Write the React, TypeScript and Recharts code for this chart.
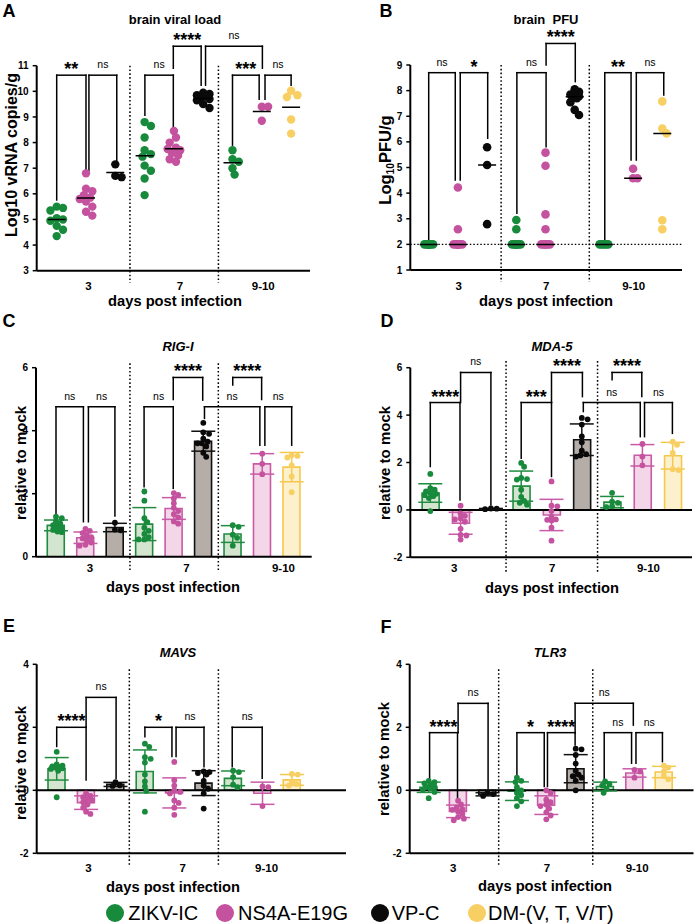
import React from "react";
import {
  ComposedChart,
  Bar,
  Cell,
  Scatter,
  ErrorBar,
  XAxis,
  YAxis,
  ReferenceLine,
} from "recharts";

const FONT = "'Liberation Sans', Arial, Helvetica, sans-serif";

const dayLabels = ["3", "7", "9-10"];
const strainNames = ["ZIKV-IC", "NS4A-E19G", "VP-C", "DM-(V, T, V/T)"];
const dotColors = ["#178a3c", "#c4529f", "#0a0a0a", "#f7cf62"];
const barFills = ["#d3e4cf", "#f3d6e8", "#b4ada8", "#fdf0cd"];
const barStrokes = ["#1f8c40", "#c95aa6", "#111111", "#f5c84c"];
// strain drawn in each of the nine slots (three per day)
const slotStrain = [0, 1, 2, 0, 1, 2, 0, 1, 3];

// one list of animals per slot
const brainViralLoad: number[][] = [
  [5.5, 5.45, 5.35, 5.05, 5.0, 4.95, 4.75, 4.6, 4.35],
  [6.8, 6.2, 6.1, 5.95, 5.85, 5.8, 5.7, 5.5, 5.3, 5.15],
  [7.15, 6.7, 6.65],
  [8.8, 8.65, 8.2, 7.7, 7.55, 7.45, 7.1, 6.9, 6.6, 5.95],
  [8.45, 8.2, 8.0, 7.8, 7.75, 7.7, 7.6, 7.5, 7.35, 7.25],
  [9.95, 9.9, 9.85, 9.8, 9.75, 9.7, 9.65, 9.5, 9.35],
  [7.7, 7.35, 7.25, 7.0, 6.75],
  [9.4, 9.4, 8.85],
  [10.02, 9.85, 9.78, 8.9, 8.35],
];

const brainPfu: number[][] = [
  [2, 2, 2, 2, 2, 2, 2, 2, 2, 2],
  [4.22, 2.59, 2, 2, 2, 2, 2, 2, 2, 2],
  [5.79, 5.1, 2.79],
  [2.95, 2.59, 2, 2, 2, 2, 2, 2, 2, 2],
  [5.58, 5.07, 3.17, 2.59, 2, 2, 2, 2, 2, 2],
  [8.05, 7.95, 7.85, 7.82, 7.78, 7.75, 7.7, 7.55, 7.25, 7.05],
  [2, 2, 2, 2, 2],
  [4.95, 4.58, 4.58],
  [7.58, 6.52, 6.33, 2.94, 2.59],
];

const rigI: number[][] = [
  [1.27, 1.22, 1.12, 1.05, 1.0, 0.95, 0.9, 0.85, 0.8, 0.78],
  [0.88, 0.82, 0.75, 0.68, 0.62, 0.58, 0.52, 0.45, 0.38, 0.35],
  [1.08, 0.86, 0.84],
  [2.07, 1.78, 1.22, 1.1, 0.92, 0.82, 0.72, 0.62, 0.55, 0.55],
  [2.02, 1.96, 1.85, 1.7, 1.55, 1.45, 1.35, 1.25, 1.12, 1.05],
  [4.25, 3.95, 3.9, 3.75, 3.65, 3.6, 3.6, 3.5, 3.3, 3.17],
  [1.0, 0.95, 0.7, 0.6, 0.35],
  [3.27, 2.95, 2.62],
  [3.22, 3.2, 3.15, 2.9, 2.55, 2.05],
];

const mda5: number[][] = [
  [1.52, 0.92, 0.85, 0.78, 0.72, 0.68, 0.62, 0.58, 0.5, -0.05],
  [0.18, -0.15, -0.25, -0.35, -0.4, -0.5, -0.8, -1.05, -1.08, -1.25],
  [0.05, 0.06, 0.03],
  [1.98, 1.82, 1.35, 1.3, 1.28, 0.85, 0.55, 0.38, 0.3, 0.22],
  [1.2, 0.18, 0.15, -0.05, -0.3, -0.4, -0.42, -0.45, -0.75, -1.3],
  [3.88, 3.82, 3.6, 3.1, 2.85, 2.5, 2.35, 2.3, 2.25],
  [0.72, 0.35, 0.3, 0.15, 0.12],
  [2.78, 2.25, 1.88],
  [2.88, 2.75, 2.4, 1.72, 1.68],
];

const mavs: number[][] = [
  [1.22, 0.82, 0.78, 0.76, 0.74, 0.72, 0.7, 0.68, 0.62, -0.22],
  [-0.1, -0.18, -0.22, -0.28, -0.32, -0.38, -0.45, -0.55, -0.68, -0.75],
  [0.26, 0.16, 0.14],
  [1.48, 1.38, 1.05, 1.0, 0.88, 0.5, 0.28, 0.12, -0.02, -0.68],
  [0.9, 0.32, 0.15, 0.0, -0.05, -0.1, -0.32, -0.4, -0.55, -0.78],
  [0.6, 0.58, 0.55, 0.5, 0.3, 0.15, 0.05, -0.1, -0.58],
  [0.62, 0.58, 0.42, 0.18, 0.1],
  [0.12, 0.1, -0.5],
  [0.52, 0.5, 0.28, 0.2, 0.15],
];

const tlr3: number[][] = [
  [0.3, 0.26, 0.22, 0.18, 0.12, 0.1, 0.06, 0.02, -0.05, -0.25],
  [-0.33, -0.45, -0.55, -0.6, -0.62, -0.68, -0.75, -0.85, -0.9, -0.95],
  [-0.08, -0.12, -0.18],
  [0.4, 0.3, 0.26, 0.1, 0.0, -0.08, -0.15, -0.25, -0.35, -0.5],
  [0.0, -0.08, -0.3, -0.38, -0.45, -0.5, -0.58, -0.7, -0.8, -0.92],
  [1.32, 1.3, 1.12, 0.85, 0.62, 0.5, 0.45, 0.4, 0.3, 0.0],
  [0.28, 0.2, 0.15, 0.05, -0.08],
  [0.65, 0.6, 0.4],
  [0.78, 0.72, 0.6, 0.45, 0.35],
];

// significance brackets: [from slot, to slot, top, left leg end, right leg end, label]
type Bracket = [number, number, number, number, number, string];

const bracketsA: Bracket[] = [
  [0.0, 1.0, 10.63, 5.76, 6.9, "**"],
  [1.1, 2.05, 10.63, 6.9, 7.19, "ns"],
  [3.01, 3.98, 10.63, 9.07, 8.42, "ns"],
  [3.98, 4.93, 11.76, 10.9, 10.24, "****"],
  [5.08, 7.02, 11.76, 10.24, 10.9, "ns"],
  [6.0, 6.91, 10.63, 7.9, 9.69, "***"],
  [7.11, 8.0, 10.63, 9.69, 10.24, "ns"],
];
const bracketsB: Bracket[] = [
  [0.0, 0.91, 8.7, 2.17, 4.51, "ns"],
  [1.08, 2.02, 8.7, 4.51, 6.14, "*"],
  [3.02, 4.02, 8.7, 3.21, 5.81, "ns"],
  [4.02, 5.02, 9.84, 9.0, 8.35, "****"],
  [6.03, 6.93, 8.7, 2.17, 5.29, "**"],
  [7.11, 8.05, 8.7, 5.29, 7.83, "ns"],
];
const bracketsC: Bracket[] = [
  [0.0, 0.93, 4.76, 1.38, 1.11, "ns"],
  [1.1, 2.0, 4.76, 1.11, 1.29, "ns"],
  [2.99, 3.98, 4.76, 2.22, 2.17, "ns"],
  [3.98, 4.98, 5.69, 4.99, 4.97, "****"],
  [5.04, 6.92, 4.76, 4.39, 3.54, "ns"],
  [6.0, 6.98, 5.69, 5.45, 4.99, "****"],
  [7.09, 8.0, 4.76, 3.54, 3.54, "ns"],
];
const bracketsD: Bracket[] = [
  [0.0, 0.98, 4.53, 1.83, 0.42, "****"],
  [1.0, 2.0, 5.8, 4.53, 0.21, "ns"],
  [3.0, 4.0, 4.53, 2.18, 1.41, "***"],
  [4.0, 5.02, 5.8, 4.53, 4.78, "****"],
  [5.05, 6.93, 4.53, 4.15, 3.09, "ns"],
  [6.0, 6.98, 5.8, 5.49, 4.78, "****"],
  [7.07, 7.99, 4.53, 3.09, 3.23, "ns"],
];
const bracketsE: Bracket[] = [
  [0.0, 1.0, 2.0, 1.39, 0.33, "****"],
  [1.0, 2.02, 2.95, 2.0, 0.38, "ns"],
  [3.0, 3.92, 2.0, 1.7, 1.07, "*"],
  [4.06, 5.01, 2.0, 1.07, 0.75, "ns"],
  [5.97, 6.99, 2.0, 0.75, 0.38, "ns"],
];
const bracketsF: Bracket[] = [
  [0.03, 0.98, 1.83, 0.38, -0.22, "****"],
  [1.0, 2.02, 2.76, 1.83, 0.06, "ns"],
  [3.0, 3.93, 1.83, 0.49, 0.12, "*"],
  [4.04, 4.98, 1.83, 0.12, 1.44, "****"],
  [4.98, 6.96, 2.76, 1.83, 2.07, "ns"],
  [5.97, 6.9, 1.83, 0.38, 0.86, "ns"],
  [7.05, 7.95, 1.83, 0.86, 0.91, "ns"],
];

interface PanelSpec {
  letter: string;
  title: string;
  italicTitle: boolean;
  cell: { left: number; top: number; width: number; height: number };
  plot: { left: number; right: number; top: number; bottom: number };
  slot0: number;
  slotW: number;
  yDomain: [number, number];
  yTicks: number[];
  xTicks: number[];
  tickSize: number;
  dividers: number[];
  dividerSpan: [number, number];
  values: number[][];
  brackets: Bracket[];
  bars: boolean;
  centre?: "mean" | "median";
  dotR: number;
  spread: number;
  zeroLine?: boolean;
  lod?: number;
  yLabel: React.ReactNode;
  yLabelSize: number;
  letterAt: [number, number];
  titleAt: [number, number];
  xLabelAt: [number, number];
  yLabelAt: [number, number];
}

const summary = (vs: number[]) => {
  const n = vs.length;
  const mean = vs.reduce((a, b) => a + b, 0) / n;
  const sd = n > 1 ? Math.sqrt(vs.reduce((a, b) => a + (b - mean) ** 2, 0) / (n - 1)) : 0;
  const s = [...vs].sort((a, b) => a - b);
  const median = n % 2 ? s[(n - 1) / 2] : (s[n / 2 - 1] + s[n / 2]) / 2;
  return { mean, sd, median };
};

// spread points of a column sideways so they do not sit on each other
function swarm(vals: number[], r: number, pxX: number, pxY: number, maxOff: number) {
  const order = vals.map((_, i) => i).sort((a, b) => vals[b] - vals[a]);
  const cands: number[] = [0];
  for (let d = r * 0.5; d <= maxOff + 0.01; d += r * 0.5) cands.push(d, -d);
  const placed: { x: number; y: number }[] = [];
  const out = vals.map(() => 0);
  for (const i of order) {
    const y = vals[i] * pxY;
    let best = 0;
    let bestScore = -1;
    for (const c of cands) {
      let m = Infinity;
      for (const q of placed) m = Math.min(m, Math.hypot(q.x - c, q.y - y));
      if (m >= r * 1.6) {
        best = c;
        break;
      }
      if (m > bestScore) {
        bestScore = m;
        best = c;
      }
    }
    placed.push({ x: best, y });
    out[i] = best / pxX;
  }
  return out;
}

const lineProps = {
  stroke: "#000",
  strokeWidth: 1.5,
  strokeLinecap: "square" as const,
  ifOverflow: "visible" as const,
};

const Txt = ({
  at,
  size,
  bold = true,
  italic = false,
  rotate = false,
  children,
}: {
  at: [number, number];
  size: number;
  bold?: boolean;
  italic?: boolean;
  rotate?: boolean;
  children: React.ReactNode;
}) => (
  <div
    style={{
      position: "absolute",
      left: at[0],
      top: at[1],
      transform: `translate(-50%, -50%)${rotate ? " rotate(-90deg)" : ""}`,
      whiteSpace: "pre",
      fontFamily: FONT,
      fontSize: size,
      fontWeight: bold ? 700 : 400,
      fontStyle: italic ? "italic" : "normal",
      lineHeight: 1.15,
      color: "#000",
    }}
  >
    {children}
  </div>
);

function Panel({ p }: { p: PanelSpec }) {
  const { cell, plot } = p;
  const yAxisW = 30;
  const xAxisH = 20;
  const xDomain: [number, number] = [
    (plot.left - p.slot0) / p.slotW,
    (plot.right - p.slot0) / p.slotW,
  ];
  // a hidden band axis carries the bars; its padding lines each band up with a slot
  const padL = p.slot0 - plot.left - p.slotW / 2;
  const padR = plot.right - p.slot0 - 8.5 * p.slotW;
  const pxY = (plot.bottom - plot.top) / (p.yDomain[1] - p.yDomain[0]);
  const margin = {
    top: plot.top - cell.top,
    bottom: cell.top + cell.height - plot.bottom - xAxisH,
    left: plot.left - cell.left - yAxisW,
    right: cell.left + cell.width - plot.right,
  };
  const stats = p.values.map(summary);
  const barRows = stats.map((s, i) => ({ slot: `s${i}`, x: i, mean: s.mean }));
  const dotSets = p.values.map((vs, i) => {
    const off = swarm(vs, p.dotR, p.slotW, pxY, p.spread);
    return vs.map((v, k) => ({ x: i + off[k], y: v }));
  });

  return (
    <>
      <div style={{ position: "absolute", left: cell.left, top: cell.top }}>
        <ComposedChart width={cell.width} height={cell.height} data={barRows} margin={margin}>
          <XAxis
            type="number"
            dataKey="x"
            domain={xDomain}
            allowDataOverflow
            ticks={p.xTicks}
            interval={0}
            tickFormatter={(v: number) => dayLabels[p.xTicks.indexOf(v)] ?? ""}
            tickLine={false}
            tickSize={p.tickSize}
            tickMargin={2}
            height={xAxisH}
            axisLine={{ stroke: "#000", strokeWidth: 2 }}
            tick={{ fill: "#000", fontSize: 11.5, fontWeight: 700, fontFamily: FONT }}
          />
          <XAxis
            xAxisId="band"
            type="category"
            dataKey="slot"
            hide
            padding={{ left: padL, right: padR }}
          />
          <YAxis
            type="number"
            domain={p.yDomain}
            allowDataOverflow
            ticks={p.yTicks}
            interval={0}
            width={yAxisW}
            tickSize={4}
            tickMargin={4}
            axisLine={{ stroke: "#000", strokeWidth: 2 }}
            tickLine={{ stroke: "#000", strokeWidth: 1.5 }}
            tick={{ fill: "#000", fontSize: 10, fontWeight: 700, fontFamily: FONT }}
          />

          {p.dividers.map((d, k) => (
            <ReferenceLine
              key={`div${k}`}
              segment={[
                { x: d, y: p.dividerSpan[0] },
                { x: d, y: p.dividerSpan[1] },
              ]}
              stroke="#000"
              strokeWidth={1.5}
              strokeDasharray="1.6 2.2"
              ifOverflow="visible"
            />
          ))}
          {p.lod !== undefined && (
            <ReferenceLine y={p.lod} stroke="#000" strokeWidth={1.1} strokeDasharray="1.5 2" />
          )}
          {p.zeroLine && <ReferenceLine y={0} stroke="#000" strokeWidth={2} />}

          {p.bars && (
            <Bar xAxisId="band" dataKey="mean" barSize={17} isAnimationActive={false}>
              {barRows.map((_, i) => (
                <Cell
                  key={i}
                  fill={barFills[slotStrain[i]]}
                  stroke={barStrokes[slotStrain[i]]}
                  strokeWidth={1.6}
                />
              ))}
            </Bar>
          )}

          {p.bars &&
            stats.map((s, i) => (
              <Scatter
                key={`err${i}`}
                data={[{ x: i, y: s.mean, sd: s.sd }]}
                dataKey="y"
                isAnimationActive={false}
                shape={() => <g />}
              >
                <ErrorBar
                  dataKey="sd"
                  direction="y"
                  width={12}
                  stroke={barStrokes[slotStrain[i]]}
                  strokeWidth={1.5}
                  isAnimationActive={false}
                />
              </Scatter>
            ))}

          {dotSets.map((pts, i) => (
            <Scatter
              key={`dots${i}`}
              data={pts}
              dataKey="y"
              isAnimationActive={false}
              shape={(props: any) => (
                <circle cx={props.cx} cy={props.cy} r={p.dotR} fill={dotColors[slotStrain[i]]} />
              )}
            />
          ))}

          {p.centre && (
            <Scatter
              data={stats.map((s, i) => ({ x: i, y: p.centre === "mean" ? s.mean : s.median }))}
              dataKey="y"
              isAnimationActive={false}
              shape={(props: any) => (
                <line
                  x1={props.cx - 9}
                  x2={props.cx + 9}
                  y1={props.cy}
                  y2={props.cy}
                  stroke="#000"
                  strokeWidth={1.5}
                />
              )}
            />
          )}

          {p.brackets.flatMap(([x1, x2, top, b1, b2, lab], k) => {
            const stars = lab !== "ns";
            return [
              <ReferenceLine
                key={`bt${k}`}
                segment={[
                  { x: x1, y: top },
                  { x: x2, y: top },
                ]}
                {...lineProps}
                label={{
                  value: lab,
                  position: "top",
                  offset: stars ? 0 : 7,
                  fill: "#000",
                  fontSize: stars ? 18 : 10.5,
                  fontWeight: stars ? 700 : 400,
                  fontFamily: FONT,
                }}
              />,
              <ReferenceLine
                key={`bl${k}`}
                segment={[
                  { x: x1, y: top },
                  { x: x1, y: b1 },
                ]}
                {...lineProps}
              />,
              <ReferenceLine
                key={`br${k}`}
                segment={[
                  { x: x2, y: top },
                  { x: x2, y: b2 },
                ]}
                {...lineProps}
              />,
            ];
          })}
        </ComposedChart>
      </div>
      <Txt at={p.letterAt} size={18}>
        {p.letter}
      </Txt>
      <Txt at={p.titleAt} size={13} italic={p.italicTitle}>
        {p.title}
      </Txt>
      <Txt at={p.xLabelAt} size={14.7}>
        days post infection
      </Txt>
      <Txt at={p.yLabelAt} size={p.yLabelSize} rotate>
        {p.yLabel}
      </Txt>
    </>
  );
}

const panels: PanelSpec[] = [
  {
    letter: "A",
    title: "brain viral load",
    italicTitle: false,
    cell: { left: 0, top: 0, width: 347, height: 300 },
    plot: { left: 36.7, right: 310, top: 65.7, bottom: 270.7 },
    slot0: 56.7,
    slotW: 29.3,
    yDomain: [3, 11],
    yTicks: [3, 4, 5, 6, 7, 8, 9, 10, 11],
    xTicks: [1.08, 4.21, 7.05],
    tickSize: 9.6,
    dividers: [2.5, 5.52],
    dividerSpan: [11, 2.53],
    values: brainViralLoad,
    brackets: bracketsA,
    bars: false,
    centre: "mean",
    dotR: 4.2,
    spread: 8,
    yLabel: "Log10 vRNA copies/g",
    yLabelSize: 16,
    letterAt: [9, 11],
    titleAt: [175, 20],
    xLabelAt: [175, 301],
    yLabelAt: [12, 155],
  },
  {
    letter: "B",
    title: "brain  PFU",
    italicTitle: false,
    cell: { left: 347, top: 0, width: 347, height: 300 },
    plot: { left: 410.3, right: 682, top: 65, bottom: 270 },
    slot0: 428.7,
    slotW: 29.2,
    yDomain: [1, 9],
    yTicks: [1, 2, 3, 4, 5, 6, 7, 8, 9],
    xTicks: [1.03, 4.02, 7.02],
    tickSize: 10,
    dividers: [2.48, 5.5],
    dividerSpan: [9, 0.54],
    values: brainPfu,
    brackets: bracketsB,
    bars: false,
    centre: "median",
    dotR: 4.3,
    spread: 5,
    lod: 2,
    yLabel: (
      <>
        Log<span style={{ fontSize: "0.62em", position: "relative", top: "0.3em" }}>10</span>PFU/g
      </>
    ),
    yLabelSize: 16.5,
    letterAt: [386, 11],
    titleAt: [546, 20],
    xLabelAt: [546, 301],
    yLabelAt: [385, 160],
  },
  {
    letter: "C",
    title: "RIG-I",
    italicTitle: true,
    cell: { left: 0, top: 300, width: 347, height: 305 },
    plot: { left: 36, right: 311.7, top: 367.7, bottom: 556.7 },
    slot0: 56,
    slotW: 29.46,
    yDomain: [0, 6],
    yTicks: [0, 2, 4, 6],
    xTicks: [1.15, 4.43, 7.72],
    tickSize: 5,
    dividers: [2.51, 5.51],
    dividerSpan: [6.14, -0.48],
    values: rigI,
    brackets: bracketsC,
    bars: true,
    dotR: 2.9,
    spread: 6.5,
    yLabel: "relative to mock",
    yLabelSize: 15,
    letterAt: [9, 321],
    titleAt: [178, 347],
    xLabelAt: [173, 587],
    yLabelAt: [21, 463],
  },
  {
    letter: "D",
    title: "MDA-5",
    italicTitle: true,
    cell: { left: 347, top: 300, width: 347, height: 305 },
    plot: { left: 410.3, right: 692, top: 367.7, bottom: 557.3 },
    slot0: 430.3,
    slotW: 30.3,
    yDomain: [-2, 6],
    yTicks: [-2, 0, 2, 4, 6],
    xTicks: [0.79, 4.02, 7.2],
    tickSize: 5,
    dividers: [2.5, 5.52],
    dividerSpan: [6.28, -2.68],
    values: mda5,
    brackets: bracketsD,
    bars: true,
    dotR: 2.9,
    spread: 6.5,
    zeroLine: true,
    yLabel: "relative to mock",
    yLabelSize: 15,
    letterAt: [387, 321],
    titleAt: [552, 347],
    xLabelAt: [552, 588],
    yLabelAt: [385, 463],
  },
  {
    letter: "E",
    title: "MAVS",
    italicTitle: true,
    cell: { left: 0, top: 605, width: 347, height: 290 },
    plot: { left: 36.7, right: 346, top: 664.3, bottom: 853.3 },
    slot0: 56.7,
    slotW: 29.4,
    yDomain: [-2, 4],
    yTicks: [-2, 0, 2, 4],
    xTicks: [1.08, 4.29, 7.14],
    tickSize: 8.6,
    dividers: [2.47, 5.5],
    dividerSpan: [3.84, -2.37],
    values: mavs,
    brackets: bracketsE,
    bars: true,
    dotR: 2.9,
    spread: 6.5,
    zeroLine: true,
    yLabel: "relative to mock",
    yLabelSize: 15,
    letterAt: [9, 626],
    titleAt: [178, 653],
    xLabelAt: [173, 887],
    yLabelAt: [21, 763],
  },
  {
    letter: "F",
    title: "TLR3",
    italicTitle: true,
    cell: { left: 347, top: 605, width: 347, height: 290 },
    plot: { left: 409.7, right: 693.5, top: 664.3, bottom: 853.3 },
    slot0: 428.7,
    slotW: 29.4,
    yDomain: [-2, 4],
    yTicks: [-2, 0, 2, 4],
    xTicks: [0.83, 4.02, 7.09],
    tickSize: 8.6,
    dividers: [2.38, 5.58],
    dividerSpan: [3.84, -2.37],
    values: tlr3,
    brackets: bracketsF,
    bars: true,
    dotR: 2.9,
    spread: 6.5,
    zeroLine: true,
    yLabel: "relative to mock",
    yLabelSize: 15,
    letterAt: [386, 627],
    titleAt: [550, 653],
    xLabelAt: [545, 886],
    yLabelAt: [384, 759],
  },
];

// legend swatch centres and text starts along the bottom row
const legendSwatchX = [115, 225, 380, 476.7];
const legendTextX = [128.3, 238, 391.7, 488];

export default function App() {
  return (
    <div
      style={{
        position: "absolute",
        left: 0,
        top: 0,
        width: 694,
        height: 924,
        background: "#fff",
        overflow: "hidden",
      }}
    >
      {panels.map((p) => (
        <Panel key={p.letter} p={p} />
      ))}
      {strainNames.map((name, i) => (
        <React.Fragment key={name}>
          <div
            style={{
              position: "absolute",
              left: legendSwatchX[i] - 9,
              top: 913 - 9,
              width: 18,
              height: 18,
              borderRadius: "50%",
              background: dotColors[i],
            }}
          />
          <div
            style={{
              position: "absolute",
              left: legendTextX[i],
              top: 913,
              transform: "translateY(-50%)",
              fontFamily: FONT,
              fontSize: 20,
              lineHeight: 1.15,
              whiteSpace: "pre",
              color: "#000",
            }}
          >
            {name}
          </div>
        </React.Fragment>
      ))}
    </div>
  );
}
